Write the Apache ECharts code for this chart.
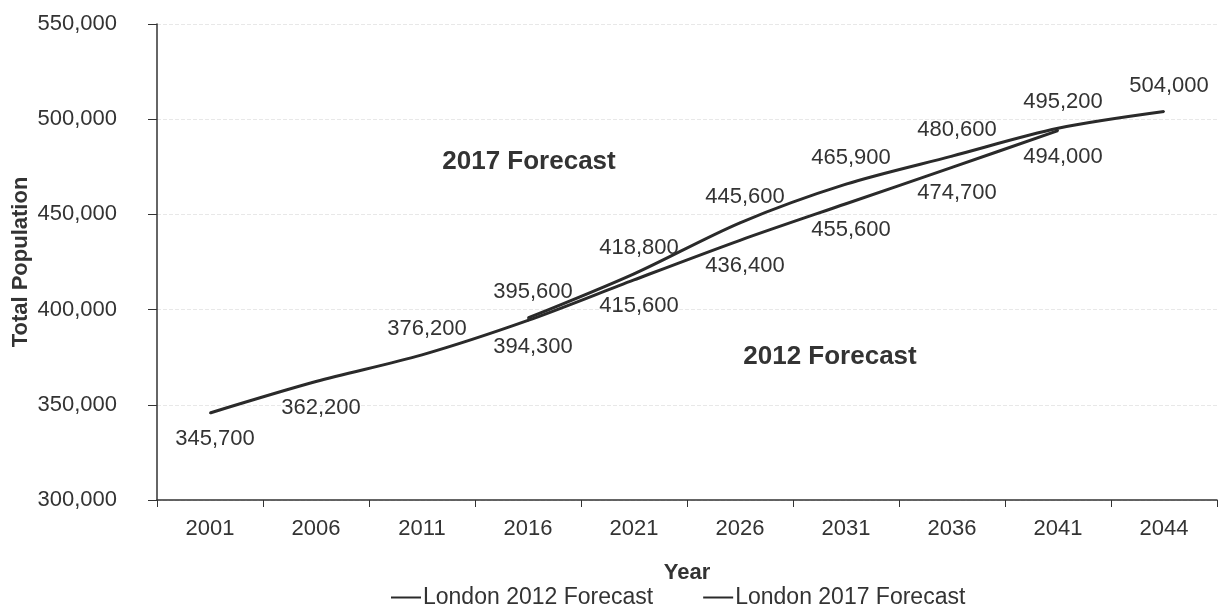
<!DOCTYPE html>
<html>
<head>
<meta charset="utf-8">
<title>London Total Population Forecasts</title>
<script src="https://cdn.jsdelivr.net/npm/echarts@6/dist/echarts.min.js"></script>
<style>
  html, body { margin: 0; padding: 0; background: #ffffff; }
  #chart { width: 1220px; height: 605px; }
</style>
</head>
<body>
<div id="chart"></div>
<script>
// Census / projection years along the x axis
const years = ['2001', '2006', '2011', '2016', '2021', '2026', '2031', '2036', '2041', '2044'];

// Total population, 2012-based projection (ends at 2041)
const forecast2012 = [345700, 362200, 376200, 394300, 415600, 436400, 455600, 474700, 494000, null];

// Total population, 2017-based projection (starts at 2016)
const forecast2017 = [null, null, null, 395600, 418800, 445600, 465900, 480600, 495200, 504000];

// Which side of the line each value label sits on
const labelSide2012 = ['bottom', 'bottom', 'top', 'bottom', 'bottom', 'bottom', 'bottom', 'bottom', 'bottom', 'bottom'];
const labelSide2017 = ['top', 'top', 'top', 'top', 'top', 'top', 'top', 'top', 'top', 'top'];

const seriesNames = ['London 2012 Forecast', 'London 2017 Forecast'];

const INK = '#333333';
const LINE = '#2a2a2a';
const FONT = 'Liberation Sans, Arial, sans-serif';

const fmt = v => Number(v).toLocaleString('en-US');

function points(values, sides) {
  return values.map((v, i) => v === null ? null : {
    value: v,
    label: { position: sides[i] }
  });
}

function lineSeries(name, values, sides) {
  return {
    name: name,
    type: 'line',
    data: points(values, sides),
    smooth: 0.3,
    symbol: 'circle',
    symbolSize: 2,
    itemStyle: { color: LINE },
    lineStyle: { color: LINE, width: 3 },
    label: {
      show: true,
      distance: 14,
      offset: [5, 0],
      color: INK,
      fontFamily: FONT,
      fontSize: 22,
      formatter: p => fmt(p.value)
    },
    emphasis: { disabled: true },
    connectNulls: false
  };
}

const chart = echarts.init(document.getElementById('chart'), null, { renderer: 'canvas' });

chart.setOption({
  animation: false,
  backgroundColor: '#ffffff',
  textStyle: { fontFamily: FONT, color: INK },
  grid: {
    left: 157, right: 3, top: 24, bottom: 105,
    containLabel: false,
    outerBoundsMode: 'none'
  },
  legend: {
    data: seriesNames,
    left: 386,
    top: 581,
    itemGap: 50,
    itemWidth: 30,
    itemHeight: 2,
    icon: 'rect',
    itemStyle: { color: LINE },
    textStyle: { color: INK, fontFamily: FONT, fontSize: 23, padding: [0, 0, 0, -3] }
  },
  xAxis: {
    type: 'category',
    data: years,
    boundaryGap: true,
    name: 'Year',
    nameLocation: 'middle',
    nameGap: 62,
    nameMoveOverlap: false,
    nameTextStyle: { color: INK, fontFamily: FONT, fontSize: 22, fontWeight: 'bold' },
    axisLine: { lineStyle: { color: INK, width: 1.5 } },
    axisTick: { show: true, length: 7, lineStyle: { color: INK } },
    axisLabel: { color: INK, fontFamily: FONT, fontSize: 22, margin: 18 },
    splitLine: { show: false }
  },
  yAxis: {
    type: 'value',
    min: 300000,
    max: 550000,
    interval: 50000,
    name: 'Total Population',
    nameLocation: 'middle',
    nameGap: 125,
    nameMoveOverlap: false,
    nameTextStyle: { color: INK, fontFamily: FONT, fontSize: 22, fontWeight: 'bold' },
    axisLine: { show: true, lineStyle: { color: INK, width: 1.5 } },
    axisTick: { show: true, length: 9, lineStyle: { color: INK } },
    axisLabel: { color: INK, fontFamily: FONT, fontSize: 22, margin: 40, formatter: fmt },
    splitLine: { show: true, lineStyle: { color: '#e8e8e8', width: 1, type: 'dashed' } }
  },
  graphic: [
    {
      type: 'text',
      x: 529, y: 162,
      style: {
        text: '2017 Forecast',
        fill: INK,
        font: 'bold 26px Liberation Sans, Arial, sans-serif',
        align: 'center',
        verticalAlign: 'middle'
      }
    },
    {
      type: 'text',
      x: 830, y: 357,
      style: {
        text: '2012 Forecast',
        fill: INK,
        font: 'bold 26px Liberation Sans, Arial, sans-serif',
        align: 'center',
        verticalAlign: 'middle'
      }
    }
  ],
  series: [
    lineSeries(seriesNames[0], forecast2012, labelSide2012),
    lineSeries(seriesNames[1], forecast2017, labelSide2017)
  ]
});
</script>
</body>
</html>
